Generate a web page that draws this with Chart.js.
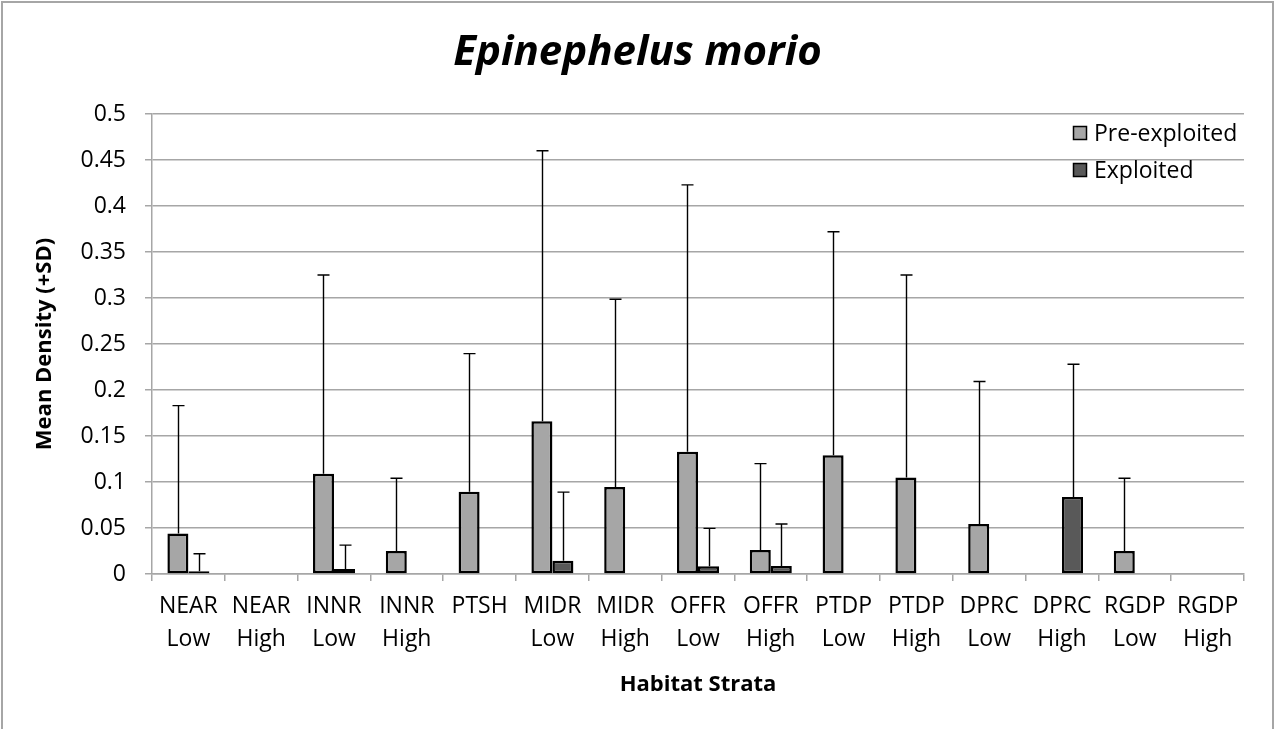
<!DOCTYPE html>
<html>
<head>
<meta charset="utf-8">
<script src="https://cdn.jsdelivr.net/npm/chart.js@4/dist/chart.umd.min.js"></script>
<style>
html,body{margin:0;padding:0;background:#fff;}
canvas{display:block;}
</style>
</head>
<body>
<canvas id="c" width="1275" height="729"></canvas>
<script>
const categories = [
  ['NEAR','Low'],['NEAR','High'],['INNR','Low'],['INNR','High'],['PTSH'],
  ['MIDR','Low'],['MIDR','High'],['OFFR','Low'],['OFFR','High'],
  ['PTDP','Low'],['PTDP','High'],['DPRC','Low'],['DPRC','High'],
  ['RGDP','Low'],['RGDP','High']
];
const preExploited   = [0.044, 0, 0.109, 0.025, 0.0895, 0.166, 0.0946, 0.133, 0.026, 0.129, 0.105, 0.0543, 0, 0.025, 0];
const preExploitedSD = [0.139, 0, 0.216, 0.079, 0.150, 0.294, 0.204, 0.290, 0.094, 0.243, 0.220, 0.155, 0, 0.079, 0];
const exploited      = [0.003, 0, 0.0054, 0, 0, 0.0145, 0, 0.0083, 0.0087, 0, 0, 0, 0.0837, 0, 0];
const exploitedSD    = [0.019, 0, 0.026, 0, 0, 0.0745, 0, 0.0413, 0.0456, 0, 0, 0, 0.1443, 0, 0];
const yTickValues    = [0, 0.05, 0.1, 0.15, 0.2, 0.25, 0.3, 0.35, 0.4, 0.45, 0.5];
const yTickLabels    = ['0','0.05','0.1','0.15','0.2','0.25','0.3','0.35','0.4','0.45','0.5'];

const FONT = "'Open Sans', sans-serif";
const GRID = '#a6a6a6';

const frame = {
  id: 'frame',
  beforeDraw(chart) {
    const ctx = chart.ctx;
    ctx.save();
    ctx.fillStyle = '#fff';
    ctx.fillRect(0, 0, chart.width, chart.height);
    ctx.strokeStyle = '#a6a6a6';
    ctx.lineWidth = 2;
    ctx.strokeRect(2, 2, chart.width - 4, chart.height + 40);
    ctx.restore();
  }
};

const errorBars = {
  id: 'errorBars',
  afterDatasetsDraw(chart) {
    const ctx = chart.ctx;
    const ys = chart.scales.y;
    chart.data.datasets.forEach((ds, i) => {
      const meta = chart.getDatasetMeta(i);
      meta.data.forEach((bar, j) => {
        const sd = ds.sd[j];
        if (!sd || !ds.data[j]) return;
        const top = ys.getPixelForValue(ds.data[j] + sd);
        const x = Math.round(bar.x) + 0.5;
        ctx.save();
        ctx.strokeStyle = '#000';
        ctx.lineWidth = 1.4;
        ctx.beginPath();
        ctx.moveTo(x, bar.y);
        ctx.lineTo(x, top);
        ctx.moveTo(x - 6, top);
        ctx.lineTo(x + 6, top);
        ctx.stroke();
        ctx.restore();
      });
    });
  }
};

const legendBox = {
  id: 'legendBox',
  afterDraw(chart) {
    const ctx = chart.ctx;
    const ca = chart.chartArea;
    const x0 = ca.right - 171;
    const y0 = ca.top + 19;
    ctx.save();
    ctx.font = '23px ' + FONT;
    ctx.textBaseline = 'middle';
    ctx.textAlign = 'left';
    chart.data.datasets.forEach((ds, i) => {
      const cy = y0 + i * 37;
      ctx.fillStyle = ds.backgroundColor;
      ctx.fillRect(x0, cy - 7, 14, 14);
      ctx.strokeStyle = '#000';
      ctx.lineWidth = 1.5;
      ctx.strokeRect(x0 + 0.5, cy - 6.5, 13, 13);
      ctx.fillStyle = '#000';
      ctx.fillText(ds.label, x0 + 21, cy + 1);
    });
    ctx.restore();
  }
};

new Chart(document.getElementById('c'), {
  type: 'bar',
  data: {
    labels: categories,
    datasets: [
      { label: 'Pre-exploited', data: preExploited, sd: preExploitedSD,
        backgroundColor: '#a6a6a6', borderColor: '#000', borderWidth: 2.5, borderSkipped: false },
      { label: 'Exploited', data: exploited, sd: exploitedSD,
        backgroundColor: '#595959', borderColor: '#000', borderWidth: 2.5, borderSkipped: false }
    ]
  },
  plugins: [frame, errorBars, legendBox],
  options: {
    responsive: false,
    animation: false,
    devicePixelRatio: 1,
    layout: { padding: { left: 0, right: 0, top: 0, bottom: 0 } },
    datasets: { bar: { categoryPercentage: 0.577, barPercentage: 1.0 } },
    plugins: {
      legend: { display: false },
      tooltip: { enabled: false },
      title: {
        display: true,
        text: 'Epinephelus morio',
        color: '#000',
        font: { family: FONT, size: 42, weight: 'bold', style: 'italic', lineHeight: 1.2 },
        padding: { top: 28.3, bottom: 35.3 }
      }
    },
    scales: {
      x: {
        afterFit: s => { s.height = 155; },
        grid: { display: true, drawOnChartArea: false, drawTicks: true, tickLength: 7, color: GRID, lineWidth: 1.5, offset: true },
        border: { display: true, color: GRID, width: 1.5 },
        ticks: { color: '#000', font: { family: FONT, size: 23, lineHeight: 1.43 }, padding: 9.5, maxRotation: 0, autoSkip: false },
        title: { display: true, text: 'Habitat Strata', color: '#000',
                 font: { family: FONT, size: 22, weight: 'bold', lineHeight: 1.2 }, padding: { top: 0, bottom: 30.8 } }
      },
      y: {
        min: 0, max: 0.5,
        afterFit: s => { s.width = 152; },
        afterBuildTicks: s => { s.ticks = yTickValues.map(v => ({ value: v })); },
        grid: { color: GRID, lineWidth: 1.5, drawTicks: true, tickLength: 7 },
        border: { display: true, color: GRID, width: 1.5 },
        ticks: {
          color: '#000', padding: 19,
          font: { family: FONT, size: 23 },
          callback: (v) => yTickLabels[yTickValues.indexOf(v)] ?? String(v)
        },
        title: { display: true, text: 'Mean Density (+SD)', color: '#000',
                 font: { family: FONT, size: 22, weight: 'bold', lineHeight: 1.2 }, padding: { top: 31.8, bottom: 0 } }
      },
      yRightSpace: {
        type: 'linear',
        position: 'right',
        display: true,
        afterFit: s => { s.width = 31; },
        grid: { display: false, drawTicks: false },
        border: { display: false },
        ticks: { display: false },
        title: { display: false }
      }
    }
  }
});
</script>
</body>
</html>
